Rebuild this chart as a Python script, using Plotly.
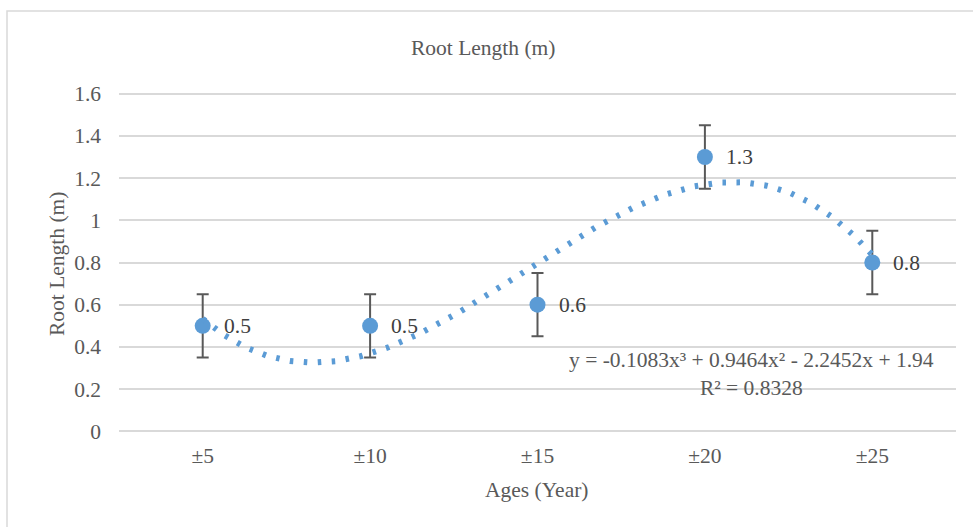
import numpy as np
import plotly.graph_objects as go

# ---- data ----
categories = ["±5", "±10", "±15", "±20", "±25"]
positions = [1, 2, 3, 4, 5]
root_length = [0.5, 0.5, 0.6, 1.3, 0.8]
error_vals = [0.15, 0.15, 0.15, 0.15, 0.15]
data_labels = ["0.5", "0.5", "0.6", "1.3", "0.8"]
# trendline coefficients as printed on the chart (highest power first)
trend_coef = [-0.1083, 0.9464, -2.2452, 1.94]
equation_text = "y = -0.1083x³ + 0.9464x² - 2.2452x + 1.94"
r2_text = "R² = 0.8328"
y_ticks = [0, 0.2, 0.4, 0.6, 0.8, 1, 1.2, 1.4, 1.6]
y_ticktext = ["0", "0.2", "0.4", "0.6", "0.8", "1", "1.2", "1.4", "1.6"]

FONT = "Liberation Serif, Times New Roman, serif"
TXT = "#595959"
BLUE = "#5B9BD5"
FS = 21.5

W, H = 973, 527
L, R, T, B = 119, 17, 92, 94
pw, ph = W - L - R, H - T - B

def px_x(px):
    return (px - L) / pw

def px_y(py):
    return (H - B - py) / ph

fig = go.Figure()

# trendline from the printed polynomial
xt = np.linspace(positions[0], positions[-1], 400)
yt = np.polyval(trend_coef, xt)

fig.add_trace(go.Scatter(
    x=positions, y=root_length, mode="markers",
    marker=dict(color=BLUE, size=16),
    error_y=dict(type="data", array=error_vals, visible=True,
                 color="#595959", thickness=2, width=6),
    showlegend=False, hoverinfo="skip",
))
fig.add_trace(go.Scatter(
    x=xt, y=yt, mode="lines",
    line=dict(color=BLUE, width=6, dash="3.5px,10.5px"),
    showlegend=False, hoverinfo="skip",
))

for xv, yv, lab in zip(positions, root_length, data_labels):
    fig.add_annotation(x=xv, y=yv, text=lab, showarrow=False,
                       xanchor="left", yanchor="middle", xshift=19,
                       font=dict(family=FONT, size=FS, color="#404040"))

fig.add_annotation(x=4.28, y=0.27, xref="x", yref="y",
                   text=equation_text + "<br>" + r2_text,
                   showarrow=False, align="center",
                   xanchor="center", yanchor="middle",
                   font=dict(family=FONT, size=FS, color=TXT))

# title
fig.add_annotation(x=px_x(483), y=px_y(48), xref="paper", yref="paper",
                   text="Root Length (m)", showarrow=False,
                   xanchor="center", yanchor="middle",
                   font=dict(family=FONT, size=FS, color=TXT))
# axis titles
fig.add_annotation(x=px_x(57), y=px_y(264), xref="paper", yref="paper",
                   text="Root Length (m)", showarrow=False, textangle=-90,
                   xanchor="center", yanchor="middle",
                   font=dict(family=FONT, size=FS, color=TXT))
fig.add_annotation(x=px_x(537), y=px_y(490), xref="paper", yref="paper",
                   text="Ages (Year)", showarrow=False,
                   xanchor="center", yanchor="middle",
                   font=dict(family=FONT, size=FS, color=TXT))

# chart border
fig.add_shape(type="rect", xref="paper", yref="paper",
              x0=px_x(7), x1=px_x(990), y0=px_y(545), y1=px_y(11),
              line=dict(color="#d9d9d9", width=1.5), fillcolor="rgba(0,0,0,0)",
              layer="below")

fig.update_layout(
    width=W, height=H,
    margin=dict(l=L, r=R, t=T, b=B, pad=0),
    paper_bgcolor="white", plot_bgcolor="white",
    font=dict(family=FONT, size=FS, color=TXT),
)
fig.update_xaxes(range=[0.5, 5.5], tickvals=positions, ticktext=categories,
                 showgrid=False, zeroline=False, showline=False, ticks="",
                 ticklabelstandoff=7,
                 tickfont=dict(family=FONT, size=FS, color=TXT))
fig.update_yaxes(range=[-0.008, 1.608], tickvals=y_ticks, ticktext=y_ticktext,
                 showgrid=True, gridcolor="#d9d9d9", gridwidth=1.5,
                 zeroline=False, showline=False, ticks="",
                 ticklabelstandoff=17,
                 tickfont=dict(family=FONT, size=FS, color=TXT))

fig.write_html("out.html")
